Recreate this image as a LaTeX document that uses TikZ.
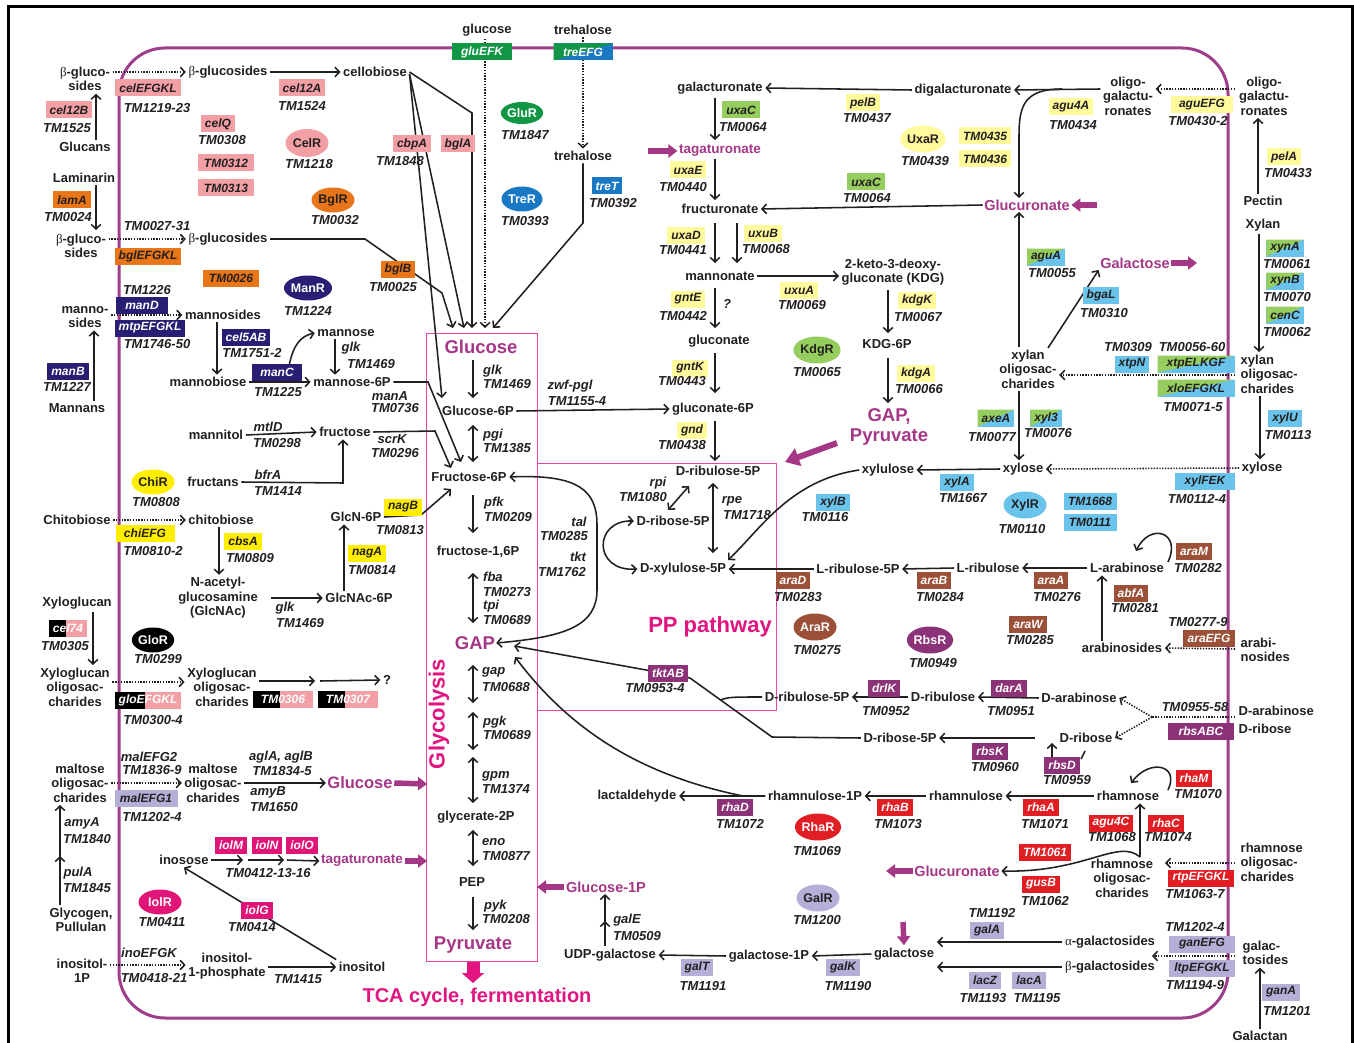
\documentclass[tikz,border=0pt]{standalone}
\usepackage{fontspec}
\setmainfont{Liberation Sans}
\newfontfamily\grk{Liberation Serif}
\usetikzlibrary{arrows.meta,shapes.geometric,calc}
\pgfdeclarelayer{bg}
\pgfsetlayers{bg,main}
\definecolor{txt}{RGB}{35,31,32}
\definecolor{memb}{RGB}{158,62,138}
\definecolor{cmag}{RGB}{165,55,135}
\definecolor{chot}{RGB}{226,20,128}
\definecolor{cbox}{RGB}{232,70,160}
\definecolor{cpink}{RGB}{242,160,165}
\definecolor{corange}{RGB}{232,118,24}
\definecolor{cnavy}{RGB}{40,30,115}
\definecolor{cgreen}{RGB}{17,150,70}
\definecolor{cblue}{RGB}{25,120,195}
\definecolor{cyel}{RGB}{255,250,155}
\definecolor{clgreen}{RGB}{150,205,95}
\definecolor{cbyel}{RGB}{255,238,0}
\definecolor{clblue}{RGB}{105,195,235}
\definecolor{cbrown}{RGB}{155,80,55}
\definecolor{cpurp}{RGB}{140,50,120}
\definecolor{cred}{RGB}{225,30,35}
\definecolor{clav}{RGB}{180,175,215}
\definecolor{ciol}{RGB}{225,20,120}
\newcommand\mfont{\fontsize{13}{14.5}\selectfont\bfseries}
\newcommand\tfont{\fontsize{13}{14}\selectfont\bfseries\itshape}
\newcommand\gfont{\fontsize{12}{14}\selectfont\bfseries\itshape}
\newcommand\rfont{\fontsize{12.5}{14}\selectfont\bfseries}
\newcommand\bta{{\grk\mdseries β}}
\newcommand\alp{{\grk\mdseries α}}
\begin{document}
\begin{tikzpicture}[x=1pt,y=-1pt,
  met/.style={font=\mfont, text=txt, inner sep=2.5pt, align=center},
  tml/.style={font=\tfont, text=txt, inner sep=1pt},
  gene/.style={font=\gfont, inner xsep=4pt, inner ysep=0pt, minimum height=17pt, text=txt},
  gw/.style={gene, text=white},
  gpk/.style={gene, fill=cpink},
  gor/.style={gene, fill=corange},
  gnv/.style={gw, fill=cnavy},
  ggr/.style={gw, fill=cgreen},
  gbl/.style={gw, fill=cblue},
  gye/.style={gene, fill=cyel},
  glg/.style={gene, fill=clgreen},
  gby/.style={gene, fill=cbyel},
  glb/.style={gene, fill=clblue},
  gbr/.style={gw, fill=cbrown},
  gpu/.style={gw, fill=cpurp},
  grd/.style={gw, fill=cred},
  glv/.style={gene, fill=clav},
  gio/.style={gw, fill=ciol},
  gsp/.style={gene, fill=clblue, path picture={
    \fill[clgreen] (path picture bounding box.north west) -- (path picture bounding box.north east) -- (path picture bounding box.south west) -- cycle;}},
  gtr/.style={gw, fill=cblue, path picture={
    \fill[cgreen] (path picture bounding box.north west) -- (path picture bounding box.north east) -- (path picture bounding box.south west) -- cycle;}},
  gbk/.style={gw, fill=cpink, path picture={
    \fill[black] (path picture bounding box.south west) rectangle ($(path picture bounding box.north west)!0.45!(path picture bounding box.north east)$);}},
  reg/.style={ellipse, minimum width=43pt, minimum height=25pt, inner sep=0pt, font=\rfont},
  ar/.style={-{Straight Barb[length=4.5pt,width=9.5pt]}, line width=1.55pt, draw=txt},
  dbl/.style={{Straight Barb[length=4.5pt,width=9.5pt]}-{Straight Barb[length=4.5pt,width=9.5pt]}, line width=1.55pt, draw=txt},
  dar/.style={ar, dash pattern=on 1.4pt off 1.4pt},
  fat/.style={-{Triangle[length=9pt,width=13pt]}, line width=5.5pt, draw=cmag},
  mag/.style={font=\fontsize{14.5}{16}\selectfont\bfseries, text=cmag, inner sep=1.5pt},
  big/.style={font=\fontsize{18.5}{19.5}\selectfont\bfseries, text=cmag, inner sep=1pt, align=center},
  hot/.style={font=\fontsize{22}{24}\selectfont\bfseries, text=chot, inner sep=0pt},
  gl/.style={tml, anchor=west}
]
\useasboundingbox (0,0) rectangle (1354,1043);
\draw[line width=3pt, black] (8,1050) -- (8,7) -- (1352,7) -- (1352,1050);

% ================= LEFT PART
\node[met] (bgo1) at (85,79) {\bta-gluco-\\sides};
\node[met] (bgi1) at (228,72) {\bta-glucosides};
\node[gpk, minimum width=64pt] (gcelEFGKL) at (148,88) {celEFGKL};
\node[tml] (t1219) at (157,108) {TM1219-23};
\node[gpk] (gcel12B) at (69,110) {cel12B};
\node[tml] (t1525) at (67,128) {TM1525};
\node[met] (glucans) at (85,147) {Glucans};
\node[met] (laminarin) at (84,178) {Laminarin};
\node[gor] (glamA) at (72,200) {lamA};
\node[tml] (t0024) at (68,217) {TM0024};
\node[met] (bgo2) at (81,246) {\bta-gluco-\\sides};
\node[met] (bgi2) at (228,239) {\bta-glucosides};
\node[tml] (t0027) at (157,226) {TM0027-31};
\node[gor, minimum width=64pt] (gbglEFGKL) at (148,256) {bglEFGKL};
\node[gor, minimum width=56pt] (g0026) at (231,278) {TM0026};
\node[met] (cellobiose) at (375,72) {cellobiose};
\node[gpk] (gcel12A) at (302,88) {cel12A};
\node[tml] (t1524) at (302,106) {TM1524};
\node[gpk] (gcelQ) at (218,124) {celQ};
\node[tml] (t0308) at (222,140) {TM0308};
\node[gpk, minimum width=56pt] (g0312) at (226,163) {TM0312};
\node[gpk, minimum width=56pt] (g0313) at (226,188) {TM0313};
\node[reg, fill=cpink, text=txt, minimum height=28pt] (CelR) at (307,143) {CelR};
\node[tml] (t1218) at (309,164) {TM1218};
\node[reg, fill=corange, text=txt] (BglR) at (333,200) {BglR};
\node[tml] (t0032) at (335,220) {TM0032};
\node[reg, fill=cnavy, text=white] (ManR) at (308,288) {ManR};
\node[tml] (t1224) at (308,311) {TM1224};
\node[tml] (t1226) at (147,290) {TM1226};
\node[gnv, minimum width=52pt] (gmanD) at (142,305) {manD};
\node[met] (mano) at (85,317) {manno-\\sides};
\node[met] (mannosides) at (223,315) {mannosides};
\node[gnv, minimum width=68pt] (gmtp) at (150,328) {mtpEFGKL};
\node[tml] (t1746) at (157,344) {TM1746-50};
\node[gnv] (gmanB) at (68,371) {manB};
\node[tml] (t1227) at (67,387) {TM1227};
\node[met] (mannans) at (77,408) {Mannans};
\node[gnv] (gcel5AB) at (246,337) {cel5AB};
\node[tml] (t1751) at (252,353) {TM1751-2};
\node[met] (mannobiose) at (208,382) {mannobiose};
\node[gnv, minimum width=50pt] (gmanC) at (277,372) {manC};
\node[tml] (t1225) at (278,392) {TM1225};
\node[met] (mannose) at (346,333) {mannose};
\node[tml] (glk1) at (351,348) {glk};
\node[tml] (t1469a) at (371,364) {TM1469};
\node[met] (man6p) at (352,382) {mannose-6P};
\node[tml] (manA) at (390,396) {manA};
\node[tml] (t0736) at (395,408) {TM0736};
\node[met] (mannitol) at (216,435) {mannitol};
\node[tml] (mtlD) at (268,427) {mtlD};
\node[tml] (t0298) at (277,443) {TM0298};
\node[met] (fructose) at (345,432) {fructose};
\node[tml] (scrK) at (392,439) {scrK};
\node[tml] (t0296) at (395,453) {TM0296};
\node[met] (fructans) at (213,482) {fructans};
\node[tml] (bfrA) at (268,475) {bfrA};
\node[tml] (t1414) at (278,491) {TM1414};
\node[reg, fill=cbyel, text=txt] (ChiR) at (153,482) {ChiR};
\node[tml] (t0808) at (156,502) {TM0808};
\node[met] (chito) at (77,520) {Chitobiose};
\node[met] (chiti) at (221,520) {chitobiose};
\node[gby, minimum width=59pt] (gchiEFG) at (145,533) {chiEFG};
\node[tml] (t0810) at (153,551) {TM0810-2};
\node[gby] (gcbsA) at (243,541) {cbsA};
\node[tml] (t0809) at (250,558) {TM0809};
\node[met] (glcnac) at (218,598) {N-acetyl-\\glucosamine\\(GlcNAc)};
\node[tml] (glk2) at (285,608) {glk};
\node[tml] (t1469b) at (300,623) {TM1469};
\node[met] (glcnac6p) at (359,598) {GlcNAc-6P};
\node[met] (glcn6p) at (356,517) {GlcN-6P};
\node[gby] (gnagA) at (367,553) {nagA};
\node[tml] (t0814) at (372,570) {TM0814};
\node[gby] (gnagB) at (403,507) {nagB};
\node[tml] (t0813) at (400,530) {TM0813};
\node[met] (xylog) at (77,603) {Xyloglucan};
\node[gbk] (gcel74) at (68,628) {cel74};
\node[tml] (t0305) at (65,646) {TM0305};
\node[reg, fill=black, text=white, minimum width=40pt] (GloR) at (153,640) {GloR};
\node[tml] (t0299) at (158,659) {TM0299};
\node[met] (xgo) at (75,687) {Xyloglucan\\oligosac-\\charides};
\node[met] (xgi) at (222,687) {Xyloglucan\\oligosac-\\charides};
\node[gbk, minimum width=65pt] (ggloEFGKL) at (148,700) {gloEFGKL};
\node[tml] (t0300) at (153,720) {TM0300-4};
\node[gbk, minimum width=60pt] (g0306) at (283,699) {TM0306};
\node[gbk, minimum width=60pt] (g0307) at (348,699) {TM0307};
\node[met] (qm) at (387,680) {?};
\node[met] (malo) at (80,783) {maltose\\oligosac-\\charides};
\node[met] (mali) at (213,783) {maltose\\oligosac-\\charides};
\node[tml] (malEFG2) at (149,757) {malEFG2};
\node[tml] (t1836) at (152,770) {TM1836-9};
\node[glv, minimum width=63pt] (gmalEFG1) at (146,798) {malEFG1};
\node[tml] (t1202a) at (152,817) {TM1202-4};
\node[tml] (aglA) at (281,757) {aglA, aglB};
\node[tml] (t1834) at (282,771) {TM1834-5};
\node[tml] (amyB) at (268,792) {amyB};
\node[tml] (t1650) at (274,807) {TM1650};
\node[mag, font=\fontsize{16.5}{18}\selectfont\bfseries] (glcL) at (360,783) {Glucose};
\node[tml] (amyA) at (82,823) {amyA};
\node[tml] (t1840) at (87,839) {TM1840};
\node[tml] (pulA) at (78,873) {pulA};
\node[tml] (t1845) at (87,888) {TM1845};
\node[met] (glycogen) at (81,920) {Glycogen,\\Pullulan};
\node[reg, fill=ciol, text=white] (IolR) at (160,902) {IolR};
\node[tml] (t0411) at (162,922) {TM0411};
\node[met] (inosose) at (184,860) {inosose};
\node[gio] (giolM) at (231,845) {iolM};
\node[gio] (giolN) at (267,845) {iolN};
\node[gio] (giolO) at (302,845) {iolO};
\node[tml] (t0412) at (268,873) {TM0412-13-16};
\node[mag, font=\fontsize{13.5}{15}\selectfont\bfseries] (tagL) at (362,861) {tagaturonate};
\node[gio] (giolG) at (257,910) {iolG};
\node[tml] (t0414) at (252,927) {TM0414};
\node[met] (ino1po) at (82,971) {inositol-\\1P};
\node[tml] (inoEFGK) at (149,953) {inoEFGK};
\node[tml] (t0418) at (154,978) {TM0418-21};
\node[met] (ino1pi) at (227,966) {inositol-\\1-phosphate};
\node[tml] (t1415) at (298,979) {TM1415};
\node[met] (inositol) at (362,967) {inositol};

% ================= TOP CENTER
\node[met] (glcTop) at (487,30) {glucose};
\node[ggr, minimum width=60pt] (ggluEFK) at (482,52) {gluEFK};
\node[met] (treTop) at (583,30) {trehalose};
\node[gtr, minimum width=59pt] (gtreEFG) at (583,52) {treEFG};
\node[met] (trehalose) at (583,156) {trehalose};
\node[gbl] (gtreT) at (607,186) {treT};
\node[tml] (t0392) at (613,203) {TM0392};
\node[reg, fill=cgreen, text=white, minimum width=40pt, minimum height=22pt] (GluR) at (522,113) {GluR};
\node[tml] (t1847) at (525,135) {TM1847};
\node[reg, fill=cblue, text=white, minimum width=41pt] (TreR) at (522,199) {TreR};
\node[tml] (t0393) at (525,221) {TM0393};
\node[gpk] (gcbpA) at (412,144) {cbpA};
\node[tml] (t1848) at (400,161) {TM1848};
\node[gpk] (gbglA) at (458,144) {bglA};
\node[gor] (gbglB) at (398,269) {bglB};
\node[tml] (t0025) at (393,287) {TM0025};

% ================= GLYCOLYSIS
\node[big] (GlcG) at (481,347) {Glucose};
\node[gl] (glk3) at (482,371) {glk};
\node[gl] (t1469c) at (482,384) {TM1469};
\node[met] (g6p) at (478,411) {Glucose-6P};
\node[tml] (zwf) at (570,386) {zwf-pgl};
\node[tml] (t1155) at (577,401) {TM1155-4};
\node[gl] (pgi) at (482,435) {pgi};
\node[gl] (t1385) at (482,448) {TM1385};
\node[met] (f6p) at (469,477) {Fructose-6P};
\node[gl] (pfk) at (483,503) {pfk};
\node[gl] (t0209) at (483,517) {TM0209};
\node[met] (f16p) at (478,552) {fructose-1,6P};
\node[gl] (fba) at (482,577) {fba};
\node[gl] (t0273) at (482,592) {TM0273};
\node[gl] (tpi) at (482,606) {tpi};
\node[gl] (t0689a) at (482,620) {TM0689};
\node[big] (GAP) at (475,643) {GAP};
\node[gl] (gapl) at (481,672) {gap};
\node[gl] (t0688) at (481,687) {TM0688};
\node[gl] (pgk) at (482,722) {pgk};
\node[gl] (t0689b) at (482,735) {TM0689};
\node[gl] (gpm) at (481,776) {gpm};
\node[gl] (t1374) at (481,789) {TM1374};
\node[met] (g2p) at (476,817) {glycerate-2P};
\node[gl] (eno) at (481,842) {eno};
\node[gl] (t0877) at (481,856) {TM0877};
\node[met] (PEP) at (472,882) {PEP};
\node[gl] (pyk) at (483,906) {pyk};
\node[gl] (t0208) at (481,919) {TM0208};
\node[big] (Pyr) at (473,945) {Pyruvate};
\node[hot, font=\fontsize{20}{22}\selectfont\bfseries] (TCA) at (477,997) {TCA cycle, fermentation};
\node[hot, rotate=90] (glyco) at (439,714) {Glycolysis};

% ================= PP PATHWAY
\node[met] (ru5p) at (718,471) {D-ribulose-5P};
\node[met] (r5p) at (673,521) {D-ribose-5P};
\node[met] (x5p) at (683,569) {D-xylulose-5P};
\node[tml] (rpi) at (658,483) {rpi};
\node[tml] (t1080) at (643,497) {TM1080};
\node[tml] (rpe) at (732,501) {rpe};
\node[tml] (t1718) at (747,515) {TM1718};
\node[tml] (tal) at (579,522) {tal};
\node[tml] (t0285a) at (564,536) {TM0285};
\node[tml] (tkt) at (578,557) {tkt};
\node[tml] (t1762) at (562,572) {TM1762};
\node[hot] (PPp) at (710,627) {PP pathway};

% ================= URONATES
\node[met] (galac) at (720,88) {galacturonate};
\node[met] (digal) at (963,90) {digalacturonate};
\node[gye] (gpelB) at (863,103) {pelB};
\node[tml] (t0437) at (867,118) {TM0437};
\node[glg] (guxaC1) at (741,110) {uxaC};
\node[tml] (t0064a) at (743,127) {TM0064};
\node[mag, font=\fontsize{13.5}{15}\selectfont\bfseries] (tagC) at (720,151) {tagaturonate};
\node[gye] (guxaE) at (688,170) {uxaE};
\node[tml] (t0440) at (683,187) {TM0440};
\node[met] (fructur) at (720,209) {fructuronate};
\node[glg] (guxaC2) at (866,182) {uxaC};
\node[tml] (t0064b) at (867,198) {TM0064};
\node[gye] (guxaD) at (686,235) {uxaD};
\node[tml] (t0441) at (683,250) {TM0441};
\node[gye] (guxuB) at (763,233) {uxuB};
\node[tml] (t0068) at (766,249) {TM0068};
\node[met] (mannonate) at (720,276) {mannonate};
\node[gye] (guxuA) at (799,290) {uxuA};
\node[tml] (t0069) at (802,305) {TM0069};
\node[met] (kdg) at (893,272) {2-keto-3-deoxy-\\gluconate (KDG)};
\node[gye] (gkdgK) at (917,300) {kdgK};
\node[tml] (t0067) at (918,317) {TM0067};
\node[met] (kdg6p) at (887,344) {KDG-6P};
\node[gye] (gkdgA) at (916,373) {kdgA};
\node[tml] (t0066) at (919,389) {TM0066};
\node[big] (gappyr) at (889,427) {GAP,\\Pyruvate};
\node[gye] (ggntE) at (688,299) {gntE};
\node[tml] (t0442) at (683,316) {TM0442};
\node[tml] (qm2) at (727,304) {?};
\node[met] (gluconate) at (719,341) {gluconate};
\node[gye] (ggntK) at (690,368) {gntK};
\node[tml] (t0443) at (682,381) {TM0443};
\node[met] (glcn6pp) at (713,409) {gluconate-6P};
\node[gye] (ggnd) at (692,430) {gnd};
\node[tml] (t0438) at (682,445) {TM0438};
\node[reg, fill=clgreen, text=txt, minimum height=27pt] (KdgR) at (817,350) {KdgR};
\node[tml] (t0065) at (817,372) {TM0065};
\node[reg, fill=cyel, text=txt, minimum height=27pt] (UxaR) at (923,139) {UxaR};
\node[tml] (t0439) at (925,161) {TM0439};
\node[gye, minimum width=50pt] (g0435) at (985,136) {TM0435};
\node[gye, minimum width=50pt] (g0436) at (985,159) {TM0436};
\node[met] (oligoI) at (1128,96) {oligo-\\galactu-\\ronates};
\node[gye] (gagu4A) at (1071,107) {agu4A};
\node[tml] (t0434) at (1073,125) {TM0434};
\node[gye, minimum width=62pt] (gaguEFG) at (1202,105) {aguEFG};
\node[tml] (t0430) at (1198,121) {TM0430-2};
\node[met] (oligoO) at (1264,96) {oligo-\\galactu-\\ronates};
\node[gye] (gpelA) at (1284,157) {pelA};
\node[tml] (t0433) at (1288,173) {TM0433};
\node[met] (pectin) at (1263,201) {Pectin};
\node[mag] (glcuT) at (1027,205) {Glucuronate};

% ================= XYLAN
\node[met] (xylan) at (1263,225) {Xylan};
\node[gsp] (gxynA) at (1285,248) {xynA};
\node[tml] (t0061) at (1287,264) {TM0061};
\node[gsp] (gxynB) at (1285,281) {xynB};
\node[tml] (t0070) at (1287,297) {TM0070};
\node[gsp] (gcenC) at (1285,315) {cenC};
\node[tml] (t0062) at (1287,332) {TM0062};
\node[gsp] (gaguA) at (1046,257) {aguA};
\node[tml] (t0055) at (1052,273) {TM0055};
\node[mag] (galT) at (1135,263) {Galactose};
\node[glb] (gbgaL) at (1101,295) {bgaL};
\node[tml] (t0310) at (1104,313) {TM0310};
\node[tml] (t0309) at (1128,347) {TM0309};
\node[tml] (t0056) at (1192,347) {TM0056-60};
\node[glb] (gxtpN) at (1132,364) {xtpN};
\node[gsp, minimum width=77pt] (gxtp) at (1196,364) {xtpELKGF};
\node[gsp, minimum width=77pt] (gxlo) at (1196,388) {xloEFGKL};
\node[tml] (t0071) at (1193,407) {TM0071-5};
\node[met] (xoi) at (1028,369) {xylan\\oligosac-\\charides};
\node[met, anchor=west, align=left] (xoo) at (1238,374) {xylan\\oligosac-\\charides};
\node[glb] (gxylU) at (1285,418) {xylU};
\node[tml] (t0113) at (1288,435) {TM0113};
\node[met] (xyloseO) at (1262,468) {xylose};
\node[glb, minimum width=60pt] (gxylFEK) at (1205,481) {xylFEK};
\node[tml] (t0112) at (1197,499) {TM0112-4};
\node[gsp] (gaxeA) at (996,418) {axeA};
\node[tml] (t0077) at (992,437) {TM0077};
\node[gsp] (gxyl3) at (1046,418) {xyl3};
\node[tml] (t0076) at (1048,433) {TM0076};
\node[met] (xylose) at (1023,469) {xylose};
\node[met] (xylulose) at (888,470) {xylulose};
\node[glb] (gxylA) at (957,482) {xylA};
\node[tml] (t1667) at (963,498) {TM1667};
\node[glb] (gxylB) at (833,502) {xylB};
\node[tml] (t0116) at (825,517) {TM0116};
\node[reg, fill=clblue, text=txt, minimum height=27pt] (XylR) at (1025,505) {XylR};
\node[tml] (t0110) at (1022,529) {TM0110};
\node[glb, minimum width=53pt] (g1668) at (1090,501) {TM1668};
\node[glb, minimum width=53pt] (g0111) at (1090,522) {TM0111};

% ================= ARABINOSE
\node[met] (larab) at (1127,568) {L-arabinose};
\node[met] (lrib) at (988,568) {L-ribulose};
\node[met] (lrib5p) at (858,569) {L-ribulose-5P};
\node[gbr] (garaA) at (1051,580) {araA};
\node[tml] (t0276) at (1057,597) {TM0276};
\node[gbr] (garaB) at (934,580) {araB};
\node[tml] (t0284) at (940,597) {TM0284};
\node[gbr] (garaD) at (793,580) {araD};
\node[tml] (t0283) at (798,597) {TM0283};
\node[gbr] (garaM) at (1194,551) {araM};
\node[tml] (t0282) at (1198,568) {TM0282};
\node[gbr] (gabfA) at (1131,593) {abfA};
\node[tml] (t0281) at (1135,608) {TM0281};
\node[met] (arabinosides) at (1122,648) {arabinosides};
\node[tml] (t0277) at (1198,622) {TM0277-9};
\node[gbr, minimum width=52pt] (garaEFG) at (1209,638) {araEFG};
\node[met, anchor=west, align=left] (arabo) at (1238,650) {arabi-\\nosides};
\node[gbr] (garaW) at (1028,624) {araW};
\node[tml] (t0285b) at (1030,640) {TM0285};
\node[reg, fill=cbrown, text=white, minimum height=27pt] (AraR) at (815,627) {AraR};
\node[tml] (t0275) at (817,650) {TM0275};
\node[reg, fill=cpurp, text=white, minimum height=27pt] (RbsR) at (930,640) {RbsR};
\node[tml] (t0949) at (933,663) {TM0949};

% ================= RIBOSE
\node[met] (darabI) at (1079,698) {D-arabinose};
\node[met] (dribu) at (943,697) {D-ribulose};
\node[met] (dribu5p) at (807,697) {D-ribulose-5P};
\node[gpu] (gdarA) at (1009,688) {darA};
\node[tml] (t0951) at (1011,711) {TM0951};
\node[gpu] (gdrlK) at (884,688) {drlK};
\node[tml] (t0952) at (886,711) {TM0952};
\node[gpu] (gtktAB) at (668,673) {tktAB};
\node[tml] (t0953) at (655,688) {TM0953-4};
\node[met] (dr5p) at (900,738) {D-ribose-5P};
\node[gpu] (grbsK) at (990,751) {rbsK};
\node[tml] (t0960) at (995,767) {TM0960};
\node[met] (dribose) at (1086,738) {D-ribose};
\node[gpu] (grbsD) at (1062,765) {rbsD};
\node[tml] (t0959) at (1067,780) {TM0959};
\node[tml] (t0955) at (1195,707) {TM0955-58};
\node[gpu, minimum width=66pt] (grbsABC) at (1201,731) {rbsABC};
\node[met, anchor=west] (darabO) at (1236,711) {D-arabinose};
\node[met, anchor=west] (driboO) at (1236,729) {D-ribose};

% ================= RHAMNOSE
\node[met] (rhamnose) at (1128,796) {rhamnose};
\node[met] (rhamnulose) at (966,796) {rhamnulose};
\node[met] (rh1p) at (815,796) {rhamnulose-1P};
\node[met] (lact) at (637,796) {lactaldehyde};
\node[grd] (grhaA) at (1041,807) {rhaA};
\node[tml] (t1071) at (1045,824) {TM1071};
\node[grd] (grhaB) at (895,807) {rhaB};
\node[tml] (t1073) at (898,824) {TM1073};
\node[gpu] (grhaD) at (735,807) {rhaD};
\node[tml] (t1072) at (740,824) {TM1072};
\node[grd] (grhaM) at (1194,778) {rhaM};
\node[tml] (t1070) at (1198,794) {TM1070};
\node[grd] (gagu4C) at (1111,823) {agu4C};
\node[tml] (t1068) at (1112,837) {TM1068};
\node[grd] (grhaC) at (1166,823) {rhaC};
\node[tml] (t1074) at (1168,837) {TM1074};
\node[met] (rho) at (1122,878) {rhamnose\\oligosac-\\charides};
\node[grd, minimum width=66pt] (grtp) at (1201,878) {rtpEFGKL};
\node[tml] (t1063) at (1195,894) {TM1063-7};
\node[met, anchor=west, align=left] (rhoo) at (1238,862) {rhamnose\\oligosac-\\charides};
\node[grd, minimum width=51pt] (g1061) at (1045,852) {TM1061};
\node[grd] (ggusB) at (1041,884) {gusB};
\node[tml] (t1062) at (1045,901) {TM1062};
\node[mag] (glcuB) at (957,871) {Glucuronate};
\node[reg, fill=cred, text=white, minimum height=27pt] (RhaR) at (818,827) {RhaR};
\node[tml] (t1069) at (817,851) {TM1069};
\node[reg, fill=clav, text=txt, minimum height=27pt] (GalR) at (818,898) {GalR};
\node[tml] (t1200) at (817,920) {TM1200};

% ================= GALACTOSE
\node[met] (galactose) at (904,954) {galactose};
\node[met] (agal) at (1110,942) {\alp-galactosides};
\node[met] (bgal) at (1110,967) {\bta-galactosides};
\node[tml] (t1192) at (992,913) {TM1192};
\node[glv] (ggalA) at (987,930) {galA};
\node[glv] (glacZ) at (985,980) {lacZ};
\node[glv] (glacA) at (1029,980) {lacA};
\node[tml] (t1193) at (983,998) {TM1193};
\node[tml] (t1195) at (1037,998) {TM1195};
\node[tml] (t1202b) at (1195,927) {TM1202-4};
\node[glv, minimum width=66pt] (gganEFG) at (1202,944) {ganEFG};
\node[glv, minimum width=66pt] (gltp) at (1202,968) {ltpEFGKL};
\node[tml] (t1194) at (1195,985) {TM1194-9};
\node[met, anchor=west, align=left] (galacto) at (1240,953) {galac-\\tosides};
\node[glv] (gganA) at (1281,992) {ganA};
\node[tml] (t1201) at (1287,1011) {TM1201};
\node[met] (galactan) at (1260,1036) {Galactan};
\node[met] (gal1p) at (769,956) {galactose-1P};
\node[glv] (ggalK) at (843,967) {galK};
\node[tml] (t1190) at (848,986) {TM1190};
\node[met] (udpgal) at (610,955) {UDP-galactose};
\node[glv] (ggalT) at (697,967) {galT};
\node[tml] (t1191) at (703,986) {TM1191};
\node[tml] (galE) at (627,920) {galE};
\node[tml] (t0509) at (637,936) {TM0509};
\node[mag] (glc1p) at (606,887) {Glucose-1P};

% ================= BACKGROUND: membrane, boxes, connectors
\begin{pgfonlayer}{bg}
\fill[white] (0,0) rectangle (1354,1043);
\draw[memb, line width=3pt, rounded corners=46pt] (119,48) rectangle (1228,1018);
\draw[cbox, line width=0.9pt] (426,333) rectangle (537,961);
\draw[cbox, line width=0.9pt] (537,463) rectangle (776,710);
% left
\draw[dar] (bgo1.east |- bgi1) -- (bgi1.west);
\draw[ar] ([xshift=11pt]glucans.north) -- ([xshift=11pt]bgo1.south);
\draw[ar] ([xshift=12pt]laminarin.south) -- (96,230);
\draw[dar] (bgo2.east |- bgi2) -- (bgi2.west);
\draw[ar] (bgi1.east) -- (cellobiose.west);
\draw[ar] (cellobiose.east) -- (472,113) -- (472,328);
\draw[ar] ([yshift=-2pt]cellobiose.east) -- (464,328);
\draw[ar] ([yshift=-2pt]cellobiose.east) -- (442,398);
\draw[ar] (bgi2.east) -- (365,239) -- (442,293) -- (453,328);
\draw[dar] (485,39) -- (485,328);
\draw[dar] (treTop.south) -- (trehalose.north);
\draw[ar] (trehalose.south) -- (583,223) -- (493,328);
\draw[dar] (mano.east |- mannosides) -- (mannosides.west);
\draw[ar] ([xshift=17pt]mannans.north) -- ([xshift=9pt]mano.south);
\draw[ar] ([xshift=-6pt]mannosides.south) -- ([xshift=9pt]mannobiose.north);
\draw[ar] (mannobiose.east) -- (man6p.west);
\draw[ar] (289,366) .. controls (293,346) and (300,336) .. (mannose.west);
\draw[ar] ([xshift=-11pt]mannose.south) -- ([xshift=-17pt]man6p.north);
\draw[ar] (man6p.east) -- (428,382) -- (461,462);
\draw[ar] (mannitol.east) -- (fructose.west);
\draw[ar] (fructose.east) -- (435,431) -- (451,468);
\draw[ar] (fructans.east) -- (343,483) -- ([xshift=-2pt]fructose.south);
\draw[dar] (chito.east) -- (chiti.west);
\draw[ar] ([xshift=-2pt]chiti.south) -- ([xshift=1pt]glcnac.north);
\draw[ar] (271,598) -- (glcnac6p.west);
\draw[ar] ([xshift=-15pt]glcnac6p.north) -- ([xshift=-12pt]glcn6p.south);
\draw[ar] (glcn6p.east) -- (421,515) -- (451,489);
\draw[ar] ([xshift=16pt]xylog.south) -- ([xshift=18pt]xgo.north);
\draw[dar] (xgo.east |- 0,682) -- (xgi.west |- 0,682);
\draw[ar] (xgi.east |- 0,681) -- (315,681);
\draw[ar] (320,681) -- (qm.west);
\draw[dar] (malo.east) -- (mali.west);
\draw[ar] (mali.east) -- (glcL.west);
\draw[fat] (glcL.east) -- (427,784);
\draw[ar] ([xshift=-21pt]glycogen.north) -- (60,856);
\draw[ar] (60,858) -- ([xshift=-20pt]malo.south);
\draw[ar] (inosose.east) -- (243,860);
\draw[ar] (248,860) -- (284,860);
\draw[ar] (287,860) -- (tagL.west);
\draw[fat] (tagL.east) -- (427,861);
\draw[ar] (inositol.north west) -- (inosose.south);
\draw[dar] (ino1po.east |- 0,965) -- (ino1pi.west |- 0,965);
\draw[ar] (ino1pi.east |- 0,967) -- (inositol.west);
% glycolysis
\draw[ar] (473,360) -- (473,398);
\draw[ar] (g6p.east) -- (glcn6pp.west);
\draw[dbl] (473,425) -- (473,462);
\draw[ar] (473,495) -- (473,533);
\draw[dbl] (473,573) -- (473,623);
\draw[dbl] (473,665) -- (473,703);
\draw[dbl] (473,712) -- (473,750);
\draw[dbl] (473,757) -- (473,803);
\draw[dbl] (473,830) -- (473,866);
\draw[ar] (473,897) -- (473,930);
\draw[-{Triangle[length=10pt,width=22pt]}, line width=13pt, chot] (473,962) -- (473,983);
\draw[dbl] (f6p.east) .. controls (578,474) and (597,490) .. (597,525) -- (597,590) .. controls (597,626) and (565,637) .. (GAP.east);
\draw[dbl] (r5p.west) .. controls (593,520) and (593,572) .. (x5p.west);
\draw[dbl] (668,510) -- (689,486);
\draw[dbl] (713,483) -- (713,553);
\draw[-{Triangle[length=14pt,width=18pt]}, line width=6pt, cmag] (837,443) -- (785,462);
\draw[ar] (690,678) -- (514,646);
\draw[line width=1.55pt, txt] (690,678) -- (772,737) -- (dr5p.west);
\draw[line width=1.55pt, txt] (720,700) .. controls (730,697) .. (dribu5p.west);
\draw[ar] (rh1p.west) -- (743,796) .. controls (640,775) and (570,730) .. (515,657);
% uronates
\draw[ar] (digal.west) -- (galac.east);
\draw[ar] (715,98) -- (715,140);
\draw[fat] (648,151) -- (tagC.west);
\draw[ar] (715,159) -- (715,200);
\draw[ar] (glcuT.west) -- (fructur.east);
\draw[ar] (715,223) -- (715,263);
\draw[ar] (737,223) -- (737,263);
\draw[ar] (mannonate.east) -- (kdg.west |- mannonate);
\draw[ar] (888,290) -- (888,333);
\draw[ar] (888,358) -- (888,403);
\draw[ar] (715,288) -- (715,328);
\draw[ar] (715,353) -- (715,393);
\draw[ar] (715,421) -- (715,461);
\draw[ar] (oligoI.west |- 0,89) -- (digal.east);
\draw[ar] (1062,89) .. controls (1025,89) and (1019,105) .. (1019,135) -- (glcuT.north -| 1019,0);
\draw[dar] (1235,89) -- (oligoI.east |- 0,89);
\draw[ar] (pectin.north -| 1258,0) -- (oligoO.south -| 1258,0);
\draw[fat] (1097,205) -- (glcuT.east);
% xylan
\draw[ar] (xylan.south -| 1259,0) -- (xoo.north -| 1259,0);
\draw[ar] (xoi.north -| 1019,0) -- (glcuT.south -| 1019,0);
\draw[fat] (galT.east) -- (1197,263);
\draw[ar] (1048,348) -- (galT.south west);
\draw[dar] (1235,375) -- (xoi.east |- 0,375);
\draw[ar] (xoo.south -| 1260,0) -- (xyloseO.north -| 1260,0);
\draw[dar] (xyloseO.west) -- (xylose.east);
\draw[ar] (xoi.south -| 1019,0) -- (xylose.north -| 1019,0);
\draw[ar] (xylose.west) -- (xylulose.east);
\draw[ar] (xylulose.west) .. controls (790,480) and (760,530) .. (728,560);
% arabinose
\draw[ar] (larab.west) -- (lrib.east);
\draw[ar] (lrib.west) -- (lrib5p.east);
\draw[ar] (lrib5p.west) -- (x5p.east);
\draw[ar] (1168,562) .. controls (1182,532) and (1150,522) .. (1136,551);
\draw[ar] (arabinosides.north -| 1102,0) -- (larab.south -| 1102,0);
\draw[dar] (1235,649) -- (arabinosides.east);
% ribose
\draw[ar] (darabI.west) -- (dribu.east);
\draw[ar] (dribu.west) -- (dribu5p.east);
\draw[ar] (1035,738) -- (dr5p.east);
\draw[ar] (1052,757) -- (1052,743);
\draw[line width=1.55pt, txt] (1081,759) -- (1085,751);
\draw[line width=1.55pt, txt, dash pattern=on 1.4pt off 1.4pt] (1235,717) -- (1152,717);
\draw[dar] (1152,717) -- (darabI.east);
\draw[dar] (1152,717) -- (dribose.east);
% rhamnose
\draw[ar] (rhamnose.west) -- (rhamnulose.east);
\draw[ar] (rhamnulose.west) -- (rh1p.east);
\draw[ar] (rh1p.west) -- (lact.east);
\draw[ar] (1168,790) .. controls (1180,765) and (1150,758) .. (1131,783);
\draw[ar] (1140,857) -- (rhamnose.south -| 1140,0);
\draw[dar] (1235,863) -- (1165,863);
\draw[ar] (1140,857) .. controls (1118,838) and (1085,873) .. (glcuB.east);
\draw[fat] (glcuB.west) -- (886,871);
% galactose
\draw[fat] (903,922) -- (galactose.north);
\draw[ar] (agal.west) -- (937,942);
\draw[ar] (bgal.west) -- (937,967);
\draw[dar] (1235,956) -- (1152,956);
\draw[ar] (galactan.north -| 1260,0) -- (galacto.south -| 1260,0);
\draw[ar] (galactose.west) -- (gal1p.east);
\draw[ar] (gal1p.west) -- (udpgal.east);
\draw[ar] (udpgal.north -| 605,0) -- (605,921);
\draw[ar] (605,923) -- (glc1p.south -| 605,0);
\draw[fat] (glc1p.west) -- (537,887);
\end{pgfonlayer}
\end{tikzpicture}
\end{document}
